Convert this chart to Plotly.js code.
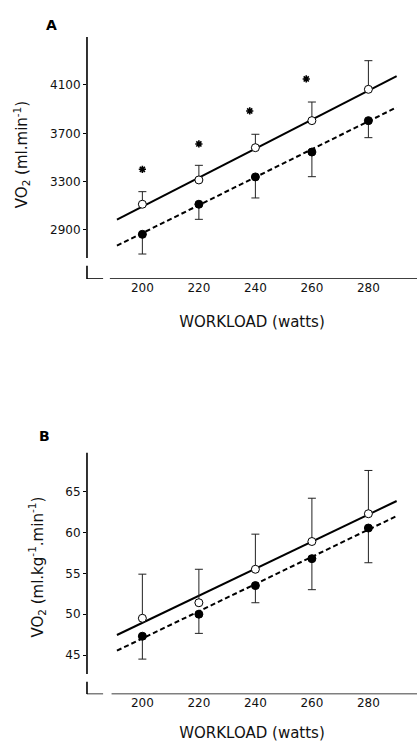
<!DOCTYPE html>
<html>
<head>
<meta charset="utf-8">
<script src="https://cdn.plot.ly/plotly-3.0.1.min.js"></script>
<style>html,body{margin:0;padding:0;background:#fff;}#chart{width:417px;height:742px;}</style>
</head>
<body>
<div id="chart"></div>
<script>
// ---- data ----
const workload = [200, 220, 240, 260, 280];
const fitX = [191, 290];

// Panel A: VO2 (ml/min)
const openA = [3113, 3314, 3581, 3805, 4064];
const openAErrUp = [104, 121, 111, 154, 237];
const filledA = [2864, 3113, 3339, 3545, 3805];
const filledAErrDown = [163, 125, 174, 204, 141];
const fitOpenA = [2985, 4174];
const fitFilledA = [2770, 3915];
const starX = [200, 220, 238, 258];
const starA = [3402, 3612, 3885, 4150];
const yTicksA = [2900, 3300, 3700, 4100];

// Panel B: VO2 (ml/kg/min)
const openB = [49.5, 51.4, 55.5, 58.9, 62.3];
const openBErrUp = [5.4, 4.1, 4.3, 5.3, 5.3];
const filledB = [47.3, 50.0, 53.5, 56.8, 60.55];
const filledBErrDown = [2.8, 2.35, 2.1, 3.8, 4.25];
const fitOpenB = [47.45, 63.86];
const fitFilledB = [45.53, 62.02];
const yTicksB = [45, 50, 55, 60, 65];

const xTicks = [200, 220, 240, 260, 280];

// ---- traces ----
const FONT = 'DejaVu Sans, Arial, sans-serif';
function panel(xa, ya, fitO, fitF, openV, openErr, filV, filErr) {
  return [
    {x: fitX, y: fitO, xaxis: xa, yaxis: ya, mode: 'lines', line: {color: '#000', width: 2}, hoverinfo: 'skip'},
    {x: fitX, y: fitF, xaxis: xa, yaxis: ya, mode: 'lines', line: {color: '#000', width: 2, dash: '5px,3px'}, hoverinfo: 'skip'},
    {x: workload, y: filV, xaxis: xa, yaxis: ya, mode: 'markers',
     marker: {symbol: 'circle', size: 8, color: '#000', line: {color: '#000', width: 1}},
     error_y: {type: 'data', symmetric: false, array: workload.map(() => 0), arrayminus: filErr, color: '#222', thickness: 1, width: 4}},
    {x: workload, y: openV, xaxis: xa, yaxis: ya, mode: 'markers',
     marker: {symbol: 'circle', size: 8, color: '#fff', line: {color: '#000', width: 1}},
     error_y: {type: 'data', symmetric: false, array: openErr, arrayminus: workload.map(() => 0), color: '#222', thickness: 1, width: 4}}
  ];
}
const traces = panel('x', 'y', fitOpenA, fitFilledA, openA, openAErrUp, filledA, filledAErrDown)
  .concat(panel('x2', 'y2', fitOpenB, fitFilledB, openB, openBErrUp, filledB, filledBErrDown));
traces.push({x: starX, y: starA, xaxis: 'x', yaxis: 'y', mode: 'markers',
  marker: {symbol: 'asterisk-open', size: 6, color: '#000', line: {color: '#000', width: 1.6}}, hoverinfo: 'skip'});

// ---- layout ----
const xRange = [180.4, 297.2];
function xaxis(anchor) {
  return {anchor: anchor, domain: [0.2086, 1], range: xRange, tickvals: xTicks, ticks: '',
    showline: false, showgrid: false, zeroline: false,
    tickfont: {family: FONT, size: 12, color: '#111'},
    title: {text: 'WORKLOAD (watts)', font: {family: FONT, size: 15, color: '#111'}, standoff: 22}};
}
function yaxis(anchor, dom, rng, tv, title) {
  return {anchor: anchor, domain: dom, range: rng, tickvals: tv, ticks: 'outside', ticklen: 3, tickcolor: '#000', tickwidth: 1,
    showline: false, showgrid: false, zeroline: false,
    tickfont: {family: FONT, size: 12, color: '#111'},
    title: {text: title, font: {family: FONT, size: 15, color: '#111'}, standoff: 18}};
}
const lineStyle = {color: '#000', width: 1.6};
const shapes = [
  // panel A axes (broken)
  {type: 'line', xref: 'x domain', yref: 'y', x0: 0, x1: 0, y0: 2668, y1: 4497, line: lineStyle},
  {type: 'line', xref: 'x domain', yref: 'y', x0: 0, x1: 0, y0: 2604, y1: 2494.3, line: lineStyle},
  {type: 'line', xref: 'x', yref: 'y', x0: 180.4, x1: 186.1, y0: 2494.3, y1: 2494.3, line: lineStyle},
  {type: 'line', xref: 'x', yref: 'y', x0: 188.5, x1: 297.2, y0: 2494.3, y1: 2494.3, line: lineStyle},
  // panel B axes (broken)
  {type: 'line', xref: 'x2 domain', yref: 'y2', x0: 0, x1: 0, y0: 42.67, y1: 69.78, line: lineStyle},
  {type: 'line', xref: 'x2 domain', yref: 'y2', x0: 0, x1: 0, y0: 41.73, y1: 40.19, line: lineStyle},
  {type: 'line', xref: 'x2', yref: 'y2', x0: 180.4, x1: 186.1, y0: 40.19, y1: 40.19, line: lineStyle},
  {type: 'line', xref: 'x2', yref: 'y2', x0: 189.1, x1: 297.2, y0: 40.19, y1: 40.19, line: lineStyle}
];

const layout = {
  width: 417, height: 742,
  margin: {l: 0, r: 0, t: 0, b: 0, autoexpand: false},
  paper_bgcolor: '#fff', plot_bgcolor: '#fff',
  showlegend: false,
  xaxis: xaxis('y'),
  yaxis: yaxis('x', [0.6240, 0.9596], [2494.3, 4555.2], yTicksA, 'VO<sub>2</sub> (ml.min<sup>-1</sup>)'),
  xaxis2: xaxis('y2'),
  yaxis2: yaxis('x2', [0.0643, 0.4070], [40.19, 71.33], yTicksB, 'VO<sub>2</sub> (ml.kg<sup>-1</sup>.min<sup>-1</sup>)'),
  shapes: shapes,
  annotations: [
    {text: '<b>A</b>', xref: 'paper', yref: 'paper', x: 51.7 / 417, y: 1 - 25 / 742, showarrow: false,
     xanchor: 'center', yanchor: 'middle', font: {family: FONT, size: 14, color: '#000'}},
    {text: '<b>B</b>', xref: 'paper', yref: 'paper', x: 44.3 / 417, y: 1 - 436 / 742, showarrow: false,
     xanchor: 'center', yanchor: 'middle', font: {family: FONT, size: 14, color: '#000'}}
  ]
};

Plotly.newPlot('chart', traces, layout, {staticPlot: true, displayModeBar: false});
</script>
</body>
</html>
